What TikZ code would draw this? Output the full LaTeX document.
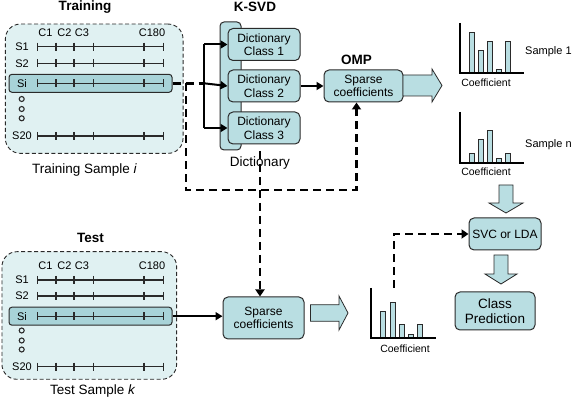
\documentclass[tikz,border=0pt]{standalone}
\usepackage{fontspec}
\setmainfont{Liberation Sans}
\usetikzlibrary{arrows.meta}
\definecolor{boxfill}{HTML}{B9DEE2}
\definecolor{panelfill}{HTML}{E0F1F2}
\definecolor{rowfill}{HTML}{A8D3D8}
\definecolor{edge}{HTML}{2A2A2A}
\newcommand{\SRow}[3]{% name, label, y
  \node[lbl] (#1) at (22,#3) {#2};
  \draw[rowline] (37.7,#3) -- (163.3,#3);
  \foreach \tx in {37.7,56,74,93.3,144,163.3}{\draw[rowline] (\tx,#3-4) -- (\tx,#3+4);}
}
\newcommand{\CLabels}[2]{% prefix, y
  \node[lbl] (#1ca) at (45.5,#2) {C1};
  \node[lbl] (#1cb) at (64.5,#2) {C2};
  \node[lbl] (#1cc) at (82,#2) {C3};
  \node[lbl] (#1cd) at (152,#2) {C180};
}
\newcommand{\Dots}[4]{% prefix, y1, y2, y3
  \node[dotc] (#1oa) at (21.7,#2) {};
  \node[dotc] (#1ob) at (21.7,#3) {};
  \node[dotc] (#1oc) at (21.7,#4) {};
}
\newcommand{\RArrow}[6]{% x0, x1, x2, yc, body half, head half
  \draw[blockarrow] (#1,#4-#5) -- (#2,#4-#5) -- (#2,#4-#6) -- (#3,#4) -- (#2,#4+#6) -- (#2,#4+#5) -- (#1,#4+#5) -- cycle;
}
\newcommand{\DArrow}[6]{% y0, y1, y2, xc, body half, head half
  \draw[blockarrow] (#4-#5,#1) -- (#4-#5,#2) -- (#4-#6,#2) -- (#4,#3) -- (#4+#6,#2) -- (#4+#5,#2) -- (#4+#5,#1) -- cycle;
}
\begin{document}
\begin{tikzpicture}[x=1pt,y=-1pt,
  box/.style={draw=edge, line width=1pt, fill=boxfill, rounded corners=5pt, align=center,
    font=\fontsize{12}{13.5}\selectfont, inner sep=0pt},
  titletext/.style={font=\bfseries\fontsize{13.5}{15}\selectfont},
  captext/.style={font=\fontsize{13.5}{15}\selectfont},
  lbl/.style={font=\fontsize{11}{12}\selectfont, inner sep=0pt},
  smalltext/.style={font=\fontsize{10.5}{12}\selectfont, inner sep=0pt},
  panel/.style={draw=edge, line width=0.9pt, dash pattern=on 4pt off 2.5pt, fill=panelfill, rounded corners=15pt},
  rowbox/.style={draw=edge, line width=1pt, fill=rowfill, rounded corners=3pt, inner sep=0pt},
  rowline/.style={draw=edge, line width=1.1pt},
  dotc/.style={circle, draw=edge, line width=1.1pt, minimum size=5pt, inner sep=0pt, fill=panelfill},
  bigdash/.style={line width=2.6pt, dash pattern=on 8pt off 5pt},
  solidarr/.style={line width=2pt, -{Triangle[length=7pt,width=8pt]}},
  dasharr/.style={bigdash, -{Triangle[length=7pt,width=9pt]}},
  blockarrow/.style={draw=edge, line width=0.8pt, fill=boxfill, line join=miter},
  axisline/.style={draw=black, line width=1.6pt},
  barstyle/.style={draw=edge, line width=0.9pt, fill=boxfill}
]
\useasboundingbox (0,0) rectangle (574,401);

% ---------------- Training panel ----------------
\node[titletext] (trtitle) at (85,7.5) {Training};
\node[panel, minimum width=177.7pt, minimum height=129.3pt] (trpanel) at (94.2,88.7) {};
\node[rowbox, minimum width=163pt, minimum height=18pt] (trsi) at (90.5,83.3) {};
\CLabels{tr}{33}
\SRow{trsa}{S1}{46.7}
\SRow{trsb}{S2}{63.3}
\SRow{trsc}{Si}{83.3}
\SRow{trsd}{S20}{136}
\Dots{tr}{99}{109}{118.3}
\node[captext] (trcap) at (84.5,170) {Training Sample \textit{i}};

% ---------------- Test panel ----------------
\node[titletext] (tetitle) at (90.5,238) {Test};
\node[panel, minimum width=174.7pt, minimum height=127.6pt] (tepanel) at (89.3,315.5) {};
\node[rowbox, minimum width=163pt, minimum height=18pt] (tesi) at (90.5,316.2) {};
\CLabels{te}{266}
\SRow{tesa}{S1}{280}
\SRow{tesb}{S2}{296}
\SRow{tesc}{Si}{316.2}
\SRow{tesd}{S20}{366.7}
\Dots{te}{330.5}{340.5}{349.5}
\node[captext] (tecap) at (92.8,391) {Test Sample \textit{k}};

% ---------------- K-SVD dictionary ----------------
\node[titletext] (ksvd) at (255,7) {K-SVD};
\node[draw=edge, line width=1pt, fill=boxfill, rounded corners=4pt, minimum width=21pt, minimum height=128pt, inner sep=0pt] (dict) at (230.5,86) {};
\node[box, minimum width=72pt, minimum height=32pt] (da) at (264,44.5) {Dictionary\\Class 1};
\node[box, minimum width=72pt, minimum height=32pt] (db) at (264,86) {Dictionary\\Class 2};
\node[box, minimum width=72pt, minimum height=32pt] (dc) at (264,128) {Dictionary\\Class 3};

% ---------------- OMP ----------------
\node[titletext] (omptitle) at (356.5,59.5) {OMP};
\node[box, minimum width=79pt, minimum height=32pt] (omp) at (363.5,86) {Sparse\\coefficients};

% ---------------- Test sparse coefficients ----------------
\node[box, minimum width=81pt, minimum height=42pt] (tsp) at (263.5,318) {Sparse\\coefficients};

% ---------------- classifier ----------------
\node[box, minimum width=72pt, minimum height=32pt] (svc) at (505,234) {SVC or LDA};
\node[box, minimum width=80pt, minimum height=38pt, font=\fontsize{13.5}{15}\selectfont] (pred) at (495,311) {Class\\Prediction};

% ---------------- connectors ----------------
\coordinate (jl) at (186,83.3);
\coordinate (br) at (204,83.3);
\coordinate (jd) at (186,190);
\coordinate (dtop) at (260,151);
\draw[bigdash] (trsi.east) -- (br);
\draw[dasharr] (jl) -- (jd) -| ([xshift=-7pt]omp.south);
\draw[dasharr] (dtop) -- (dtop |- tsp.north);
\node[captext] (dictlabel) at (260,163) {Dictionary};
\draw[line width=2pt] (br |- da.west) -- (br |- dc.west);
\draw[solidarr] (br |- da.west) -- (da.west);
\draw[solidarr] (br) -- (db.west);
\draw[solidarr] (br |- dc.west) -- (dc.west);
\draw[solidarr] (db.east) -- (omp.west);
\draw[solidarr] (tesi.east) -- (tesi.east -| tsp.west);

% block arrows
\RArrow{403}{432}{442}{85.5}{10.5}{16.5}
\RArrow{310.5}{339}{348}{313}{8.3}{17}
\DArrow{185}{203}{213}{506}{7}{17}
\DArrow{255}{274}{284}{501}{7}{16}

% ---------------- bar charts ----------------
\foreach \bx/\by in {469/32,478/50,487/41,496/69,505/41}{\draw[barstyle] (\bx,\by) rectangle (\bx+5,73);}
\draw[axisline] (460,23) -- (460,73) -- (524,73);
\node[smalltext] (cfa) at (486,83) {Coefficient};
\node[lbl, anchor=west] (sa) at (525,52) {Sample 1};

\foreach \bx/\by in {469/153,478/139,487/130,496/158,505/153}{\draw[barstyle] (\bx,\by) rectangle (\bx+5,163);}
\draw[axisline] (460,112) -- (460,163) -- (524,163);
\node[smalltext] (cfb) at (486,172) {Coefficient};
\node[lbl, anchor=west] (sn) at (525,145) {Sample n};

\foreach \bx/\by in {380/311,390/302,399/324,408/334,417/324}{\draw[barstyle] (\bx,\by) rectangle (\bx+5,338);}
\draw[axisline] (371,288) -- (371,338) -- (436,338);
\node[smalltext] (cfc) at (405,349) {Coefficient};

\coordinate (cc) at (394,288);
\draw[dasharr] (cc) |- (svc.west);
\end{tikzpicture}
\end{document}
